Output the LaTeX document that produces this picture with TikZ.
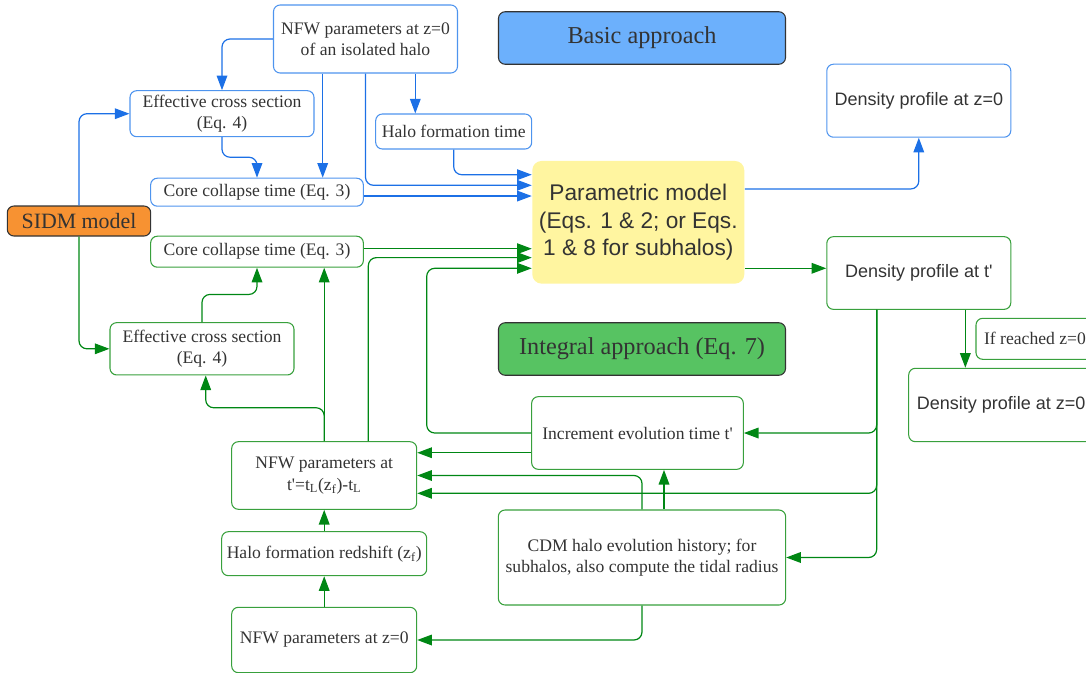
\documentclass[tikz,border=0pt]{standalone}
\usepackage{fontspec}
\setmainfont{Liberation Serif}[Ligatures=TeXOff]
\newfontfamily\sansfont{Liberation Sans}[Ligatures=TeXOff]
\usepackage{xcolor}
\usepackage{tikz}
\usetikzlibrary{arrows.meta}

\definecolor{lineblue}{RGB}{28,112,230}
\definecolor{boxblue}{RGB}{78,148,238}
\definecolor{linegreen}{RGB}{0,135,20}
\definecolor{boxgreen}{RGB}{56,160,60}
\definecolor{textgray}{RGB}{51,51,51}
\definecolor{basicfill}{RGB}{108,176,252}
\definecolor{integralfill}{RGB}{87,195,98}
\definecolor{sidmfill}{RGB}{247,146,50}
\definecolor{paramfill}{RGB}{255,245,160}

\begin{document}
\begin{tikzpicture}[x=0.75pt, y=-0.75pt,
        every node/.style={text=textgray, align=center, font=\fontsize{13.2}{16}\selectfont},
        box/.style 2 args={rounded corners=5pt, minimum width=#1*0.75pt, minimum height=#2*0.75pt, inner sep=0pt, line width=0.8pt},
        bluebox/.style 2 args={box={#1}{#2}, draw=boxblue},
        greenbox/.style 2 args={box={#1}{#2}, draw=boxgreen},
        titlebox/.style={box={287}{52.5}, draw=textgray, font=\fontsize{18.2}{22}\selectfont},
        sanstext/.style={font=\sansfont\fontsize{13.5}{16}\selectfont},
        bline/.style={draw=lineblue, line width=0.9pt, rounded corners=6pt, -{Triangle[length=11pt,width=8pt]}},
        gline/.style={draw=linegreen, line width=0.9pt, rounded corners=6pt, -{Triangle[length=11pt,width=8pt]}}]
    \useasboundingbox (0,0) rectangle (1086,672);
    \clip (0,0) rectangle (1086,672);

    \node[bluebox={184}{68}] (nfw0) at (365.5,39) {NFW parameters at z=0\\of an isolated halo};
    \node[titlebox, fill=basicfill] (basic) at (642,38) {Basic approach};
    \node[bluebox={184}{46}] (effA) at (222,113.7) {Effective cross section\\(Eq. 4)};
    \node[bluebox={156}{35}] (hft) at (453.7,131.5) {Halo formation time};
    \node[bluebox={184}{73}, sanstext] (dens0) at (918.8,100.7) {Density profile at z=0};
    \node[bluebox={212.7}{28}] (ccA) at (257,192.2) {Core collapse time (Eq. 3)};
    \node[box={212}{122.7}, rounded corners=7pt, fill=paramfill,
        font=\sansfont\fontsize{17}{20.6}\selectfont] (param) at (638.3,222.3)
        {Parametric model\\(Eqs. 1 \& 2; or Eqs.\\1 \& 8 for subhalos)};
    \node[box={143.4}{30}, draw=textgray, fill=sidmfill, font=\fontsize{16.4}{18}\selectfont] (sidm) at (79,221) {SIDM model};
    \node[greenbox={212.7}{31}] (ccB) at (257,251.7) {Core collapse time (Eq. 3)};
    \node[greenbox={184}{72.7}, sanstext] (densT) at (918.8,273) {Density profile at t'};
    \node[titlebox, fill=integralfill] (integral) at (642,349) {Integral approach (Eq. 7)};
    \node[greenbox={118}{41}] (reached) at (1035,338.8) {If reached z=0};
    \node[greenbox={185}{73.4}, sanstext] (densZ) at (1001.2,405) {Density profile at z=0};
    \node[greenbox={184}{52.3}] (effB) at (202,348.8) {Effective cross section\\(Eq. 4)};
    \node[greenbox={211.7}{72.7}] (incr) at (637.5,433) {Increment evolution time t'};
    \node[greenbox={185}{67.6}] (nfwT) at (324.2,475.5)
        {NFW parameters at\\t'=t\textsubscript{L}(z\textsubscript{f})-t\textsubscript{L}};
    \node[greenbox={287.3}{95}] (cdm) at (642,557.5)
        {CDM halo evolution history; for\\subhalos, also compute the tidal radius};
    \node[greenbox={205}{44}] (hfr) at (324.2,553.7) {Halo formation redshift (z\textsubscript{f})};
    \node[greenbox={185}{65.4}] (nfwZ) at (324.2,640) {NFW parameters at z=0};

    % basic approach
    \draw[bline] (nfw0.west) -| (effA.north);
    \draw[bline] ([xshift=-32.1pt]nfw0.south) -- ([xshift=-32.1pt]nfw0.south |- ccA.north);
    \draw[bline] (nfw0.south) |- ([yshift=27.75pt]param.west);
    \draw[bline] ([xshift=37.35pt]nfw0.south) -- ([xshift=37.35pt]nfw0.south |- hft.north);
    \draw[bline] (hft.south) |- ([yshift=35.7pt]param.west);
    \draw[bline] ([yshift=19.7pt]param.west -| ccA.east) -- ([yshift=19.7pt]param.west);
    \draw[bline] (effA.south) -- ++(0,20) -| (ccA.north);
    \draw[bline] (sidm.north) |- (effA.west);
    \draw[bline] ([yshift=25pt]param.east) -| (dens0.south);

    % integral approach
    \draw[gline] (sidm.south) |- (effB.west);
    \draw[gline] (effB.north) -- ++(0,-27.7) -| (ccB.south);
    \draw[gline] ([yshift=-19.8pt]param.west -| ccB.east) -- ([yshift=-19.8pt]param.west);
    \draw[gline] ([xshift=33.1pt]nfwT.north) |- ([yshift=-26.5pt]param.west);
    \draw[gline] (incr.west) -- ++(-104.4,0) |- ([yshift=-34.5pt]param.west);
    \draw[gline] (nfwT.north) -- (nfwT.north |- ccB.south);
    \draw[gline] (nfwT.north) -- ++(0,-33.4) -| ([xshift=2.8pt]effB.south);
    \draw[gline] ([yshift=-14.8pt]incr.west) -- ([yshift=-14.8pt]incr.west -| nfwT.east);
    \draw[gline] (cdm.north) |- (nfwT.east);
    \draw[gline] ([xshift=16.5pt]cdm.north) -- ([xshift=16.5pt]cdm.north |- incr.south);
    \draw[gline] ([xshift=-31.6pt]densT.south) |- (incr.east);
    \draw[gline] ([xshift=-31.6pt]densT.south) |- ([yshift=-13.35pt]nfwT.east);
    \draw[gline] ([xshift=-31.6pt]densT.south) |- (cdm.east);
    \draw[gline] ([xshift=34.9pt]densT.south) -- ([xshift=34.9pt]densT.south |- densZ.north);
    \draw[gline] ([yshift=-34.5pt]param.east) -- ([yshift=-34.5pt]param.east -| densT.west);
    \draw[gline] (cdm.south) |- (nfwZ.east);
    \draw[gline] (hfr.north) -- (nfwT.south);
    \draw[gline] (nfwZ.north) -- (hfr.south);
\end{tikzpicture}
\end{document}
